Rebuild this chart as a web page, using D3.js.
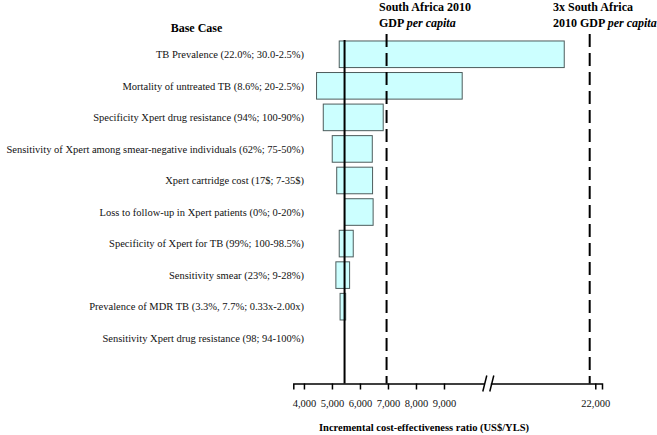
<!DOCTYPE html>
<html>
<head>
<meta charset="utf-8">
<script src="https://cdn.jsdelivr.net/npm/d3@7"></script>
<style>
  html, body { margin: 0; padding: 0; background: #fff; }
  svg { display: block; font-family: "Liberation Serif", "Times New Roman", serif; }
</style>
</head>
<body>
<svg id="chart" width="657" height="435"></svg>
<script>
// ---- data ----
const parameters = [
  "TB Prevalence (22.0%; 30.0-2.5%)",
  "Mortality of untreated TB (8.6%; 20-2.5%)",
  "Specificity Xpert drug resistance (94%; 100-90%)",
  "Sensitivity of Xpert among smear-negative individuals (62%; 75-50%)",
  "Xpert cartridge cost (17$; 7-35$)",
  "Loss to follow-up in Xpert patients (0%; 0-20%)",
  "Specificity of Xpert for TB (99%; 100-98.5%)",
  "Sensitivity smear (23%; 9-28%)",
  "Prevalence of MDR TB (3.3%, 7.7%; 0.33x-2.00x)",
  "Sensitivity Xpert drug resistance (98; 94-100%)"
];
const lowICER  = [5260, 4450, 4690, 5010, 5170, 5450, 5260, 5140, 5290, 5450];
const highICER = [20890, 9650, 6830, 6440, 6450, 6470, 5760, 5630, 5490, 5450];
const baseCaseICER = 5450;
const thresholdValues = [6950, 21800];
const thresholdLabels = [["South Africa 2010", "GDP ", "per capita"], ["3x South Africa", "2010 GDP ", "per capita"]];
const tickValues = [4000, 5000, 6000, 7000, 8000, 9000, 22000];
const axisTitle = "Incremental cost-effectiveness ratio (US$/YLS)";
const baseCaseTitle = "Base Case";

// ---- scales ----
const svg = d3.select("#chart");
// broken axis: two linear segments joined at the break
const x = d3.scaleLinear()
  .domain([3620, 10600, 18200, 22240])
  .range([293.3, 488.8, 489, 602]);
const y = d3.scaleBand()
  .domain(parameters)
  .range([38.5, 354])
  .paddingInner(0.157)
  .paddingOuter(0.0785);

const axisY = 383.5;

// ---- bars ----
const rows = parameters.map((p, i) => ({p, lo: lowICER[i], hi: highICER[i]}));
svg.append("g").selectAll("rect")
  .data(rows.filter(d => d.hi > d.lo))
  .join("rect")
  .attr("x", d => x(d.lo))
  .attr("y", d => y(d.p))
  .attr("width", d => x(d.hi) - x(d.lo))
  .attr("height", y.bandwidth())
  .attr("fill", "#ccffff")
  .attr("stroke", "#4d5c5c")
  .attr("stroke-width", 1);

// ---- row labels ----
svg.append("g").selectAll("text")
  .data(parameters)
  .join("text")
  .attr("x", 304)
  .attr("y", d => y(d) + y.bandwidth() / 2)
  .attr("dy", "0.35em")
  .attr("text-anchor", "end")
  .attr("font-size", "10.5px")
  .attr("fill", "#111")
  .text(d => d);

svg.append("text")
  .attr("x", 196.5)
  .attr("y", 31.5)
  .attr("text-anchor", "middle")
  .attr("font-size", "12px")
  .attr("font-weight", "bold")
  .text(baseCaseTitle);

// ---- base case line ----
svg.append("line")
  .attr("x1", x(baseCaseICER)).attr("x2", x(baseCaseICER))
  .attr("y1", 40).attr("y2", axisY)
  .attr("stroke", "#000").attr("stroke-width", 2);

// ---- threshold lines ----
svg.append("g").selectAll("line")
  .data(thresholdValues)
  .join("line")
  .attr("x1", d => x(d)).attr("x2", d => x(d))
  .attr("y1", 34).attr("y2", axisY)
  .attr("stroke", "#000").attr("stroke-width", 2)
  .attr("stroke-dasharray", "13,6");

const labelLeft = [379, 553];
thresholdLabels.forEach((lab, i) => {
  const g = svg.append("g").attr("font-size", "12px").attr("font-weight", "bold").attr("fill", "#000");
  g.append("text").attr("x", labelLeft[i]).attr("y", 11).text(lab[0]);
  const t = g.append("text").attr("x", labelLeft[i]).attr("y", 27);
  t.append("tspan").text(lab[1]);
  t.append("tspan").attr("font-style", "italic").text(lab[2]);
});

// ---- axis ----
const axis = d3.axisBottom(x)
  .tickValues(tickValues)
  .tickFormat(d3.format(","))
  .tickSizeOuter(0)
  .tickSize(6)
  .tickPadding(10);
const ag = svg.append("g").attr("transform", `translate(0,${axisY})`).call(axis);
ag.select(".domain").attr("stroke", "#000").attr("stroke-width", 1.5);
ag.selectAll(".tick line").attr("stroke", "#000").attr("stroke-width", 1.5);
ag.selectAll(".tick text")
  .attr("font-family", "Liberation Serif, Times New Roman, serif")
  .attr("font-size", "10.5px")
  .attr("fill", "#111");

// axis break marks
const bx = x(10600);
ag.append("rect").attr("x", bx - 4).attr("y", -3).attr("width", 6).attr("height", 6).attr("fill", "#fff");
[-4, 3].forEach(o => {
  ag.append("line")
    .attr("x1", bx + o - 2).attr("y1", 8)
    .attr("x2", bx + o + 2).attr("y2", -8)
    .attr("stroke", "#000").attr("stroke-width", 1.5);
});

svg.append("text")
  .attr("x", 424)
  .attr("y", 431)
  .attr("text-anchor", "middle")
  .attr("font-size", "10.5px")
  .attr("font-weight", "bold")
  .text(axisTitle);
</script>
</body>
</html>
